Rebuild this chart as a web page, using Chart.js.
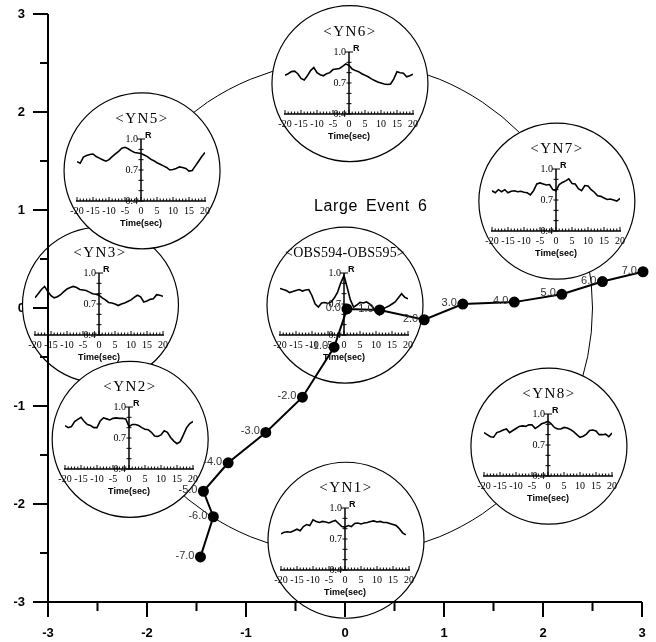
<!DOCTYPE html>
<html>
<head>
<meta charset="utf-8">
<script src="https://cdn.jsdelivr.net/npm/chart.js@4.4.1/dist/chart.umd.min.js"></script>
<style>
  html, body { margin: 0; padding: 0; background: #fff; }
  #wrap { width: 656px; height: 642px; position: relative; }
  #offscreen { position: absolute; left: -3000px; top: 0; }
</style>
</head>
<body>
<div id="wrap"><canvas id="main" width="656" height="642"></canvas></div>
<div id="offscreen"></div>
<script>
// ── main plot data ─────────────────────────────────────────────────────────
const axisTicks = [-3, -2, -1, 0, 1, 2, 3];
const axisMinorTicks = [-2.5, -1.5, -0.5, 0.5, 1.5, 2.5];

const pathLabels = ['-7.0', '-6.0', '-5.0', '-4.0', '-3.0', '-2.0', '-1.0', '0.0',
                    '1.0', '2.0', '3.0', '4.0', '5.0', '6.0', '7.0'];
const pathX = [-1.46, -1.33, -1.43, -1.18, -0.80, -0.43, -0.11, 0.02,
               0.35, 0.80, 1.19, 1.71, 2.19, 2.60, 3.01];
const pathY = [-2.54, -2.13, -1.87, -1.58, -1.27, -0.91, -0.40, -0.01,
               -0.02, -0.12, 0.04, 0.06, 0.14, 0.27, 0.37];

const ringCenter = [0, 0];
const ringRadius = 2.5;
const eventTitle = 'Large Event 6';

// ── inset (cross-correlation) data ─────────────────────────────────────────
const lagSec = [-20, -19, -18, -17, -16, -15, -14, -13, -12, -11, -10, -9, -8, -7, -6, -5, -4, -3, -2, -1,
                0, 1, 2, 3, 4, 5, 6, 7, 8, 9, 10, 11, 12, 13, 14, 15, 16, 17, 18, 19, 20];
const insetXTicks = [-20, -15, -10, -5, 0, 5, 10, 15, 20];
const insetYTicks = [0.4, 0.5, 0.6, 0.7, 0.8, 0.9, 1.0];
const insetYLabels = [1.0, 0.7, 0.4];

const rOBS = [0.85, 0.84, 0.83, 0.81, 0.82, 0.83, 0.84, 0.825, 0.835, 0.84, 0.78, 0.70, 0.67, 0.71, 0.715, 0.705, 0.72, 0.76, 0.815, 0.905,
              0.975, 0.86, 0.74, 0.67, 0.69, 0.715, 0.71, 0.72, 0.70, 0.67, 0.62, 0.595, 0.65, 0.665, 0.68, 0.70, 0.72, 0.76, 0.80, 0.765, 0.75];
const rYN6 = [0.775, 0.79, 0.81, 0.815, 0.79, 0.745, 0.73, 0.77, 0.82, 0.85, 0.80, 0.78, 0.77, 0.79, 0.80, 0.83, 0.835, 0.84, 0.86, 0.885,
              0.87, 0.835, 0.82, 0.81, 0.79, 0.775, 0.76, 0.74, 0.725, 0.71, 0.70, 0.69, 0.685, 0.69, 0.74, 0.81, 0.80, 0.795, 0.76, 0.77, 0.785];
const rYN7 = [0.79, 0.77, 0.80, 0.78, 0.80, 0.77, 0.785, 0.79, 0.78, 0.785, 0.775, 0.77, 0.75, 0.79, 0.855, 0.865, 0.855, 0.845, 0.85, 0.80,
              0.79, 0.85, 0.87, 0.885, 0.905, 0.86, 0.855, 0.81, 0.79, 0.84, 0.835, 0.80, 0.775, 0.74, 0.735, 0.72, 0.705, 0.71, 0.70, 0.69, 0.715];
const rYN8 = [0.82, 0.80, 0.78, 0.775, 0.82, 0.83, 0.845, 0.855, 0.82, 0.84, 0.86, 0.88, 0.885, 0.88, 0.895, 0.895, 0.86, 0.88, 0.905, 0.915,
              0.93, 0.905, 0.87, 0.855, 0.855, 0.87, 0.865, 0.85, 0.83, 0.80, 0.775, 0.785, 0.805, 0.84, 0.845, 0.835, 0.80, 0.80, 0.805, 0.78, 0.815];
const rYN1 = [0.75, 0.765, 0.77, 0.765, 0.78, 0.795, 0.78, 0.82, 0.84, 0.83, 0.885, 0.87, 0.86, 0.87, 0.865, 0.855, 0.87, 0.88, 0.85, 0.82,
              0.815, 0.83, 0.82, 0.85, 0.855, 0.845, 0.855, 0.86, 0.87, 0.875, 0.865, 0.87, 0.86, 0.86, 0.85, 0.84, 0.83, 0.80, 0.76, 0.74, null];
const rYN3 = [0.76, 0.80, 0.84, 0.87, 0.82, 0.78, 0.76, 0.77, 0.79, 0.82, 0.845, 0.86, 0.87, 0.86, 0.84, 0.835, 0.83, 0.815, 0.80, 0.795,
              0.785, 0.76, 0.74, 0.715, 0.71, 0.70, 0.685, 0.70, 0.71, 0.725, 0.74, 0.765, 0.785, 0.77, 0.72, 0.73, 0.745, 0.75, 0.79, 0.785, 0.775];
const rYN2 = [0.82, 0.80, 0.81, 0.86, 0.88, 0.90, 0.86, 0.83, 0.82, 0.80, 0.80, 0.865, 0.895, 0.885, 0.875, 0.89, 0.895, 0.89, 0.89, 0.885,
              0.81, 0.83, 0.83, 0.82, 0.80, 0.785, 0.78, 0.755, 0.72, 0.715, 0.73, 0.77, 0.755, 0.705, 0.67, 0.645, 0.665, 0.73, 0.80, 0.84, 0.86];
const rYN5 = [0.78, 0.765, 0.825, 0.84, 0.85, 0.855, 0.83, 0.815, 0.80, 0.785, 0.80, 0.83, 0.855, 0.88, 0.91, 0.92, 0.905, 0.885, 0.87, 0.865,
              0.86, 0.845, 0.83, 0.805, 0.79, 0.77, 0.755, 0.74, 0.725, 0.70, 0.705, 0.715, 0.73, 0.725, 0.715, 0.69, 0.695, 0.74, 0.785, 0.83, 0.87];

// drawing order matters: later insets overlap earlier ones
const insetNames = ['<OBS594-OBS595>', '<YN6>', '<YN7>', '<YN8>', '<YN1>', '<YN3>', '<YN2>', '<YN5>'];
const insetSeries = [rOBS, rYN6, rYN7, rYN8, rYN1, rYN3, rYN2, rYN5];

// where each inset circle sits, in plot units (x, y)
const insetAt = [[0.0, 0.03], [0.05, 2.29], [2.14, 1.09], [2.06, -1.41],
                 [0.01, -2.37], [-2.47, 0.03], [-2.17, -1.34], [-2.05, 1.40]];

// ── inset charts (rendered off screen, composited into the main canvas) ──
const INSET = 158;          // canvas size of one inset
const INSET_R = 78;         // circle radius

const insetDecor = {
  id: 'insetDecor',
  afterDraw(chart) {
    const { ctx, scales: { x, y } } = chart;
    const x0 = x.getPixelForValue(0);
    const yb = y.getPixelForValue(0.4);
    const yt = y.getPixelForValue(1.0);
    ctx.save();
    ctx.strokeStyle = '#000';
    ctx.fillStyle = '#000';

    // time axis + second ticks
    ctx.lineWidth = 1.5;
    ctx.beginPath();
    ctx.moveTo(x.left - 1, yb); ctx.lineTo(x.right + 1, yb);
    ctx.stroke();
    ctx.lineWidth = 1;
    ctx.beginPath();
    lagSec.forEach(t => {
      const px = x.getPixelForValue(t);
      ctx.moveTo(px, yb); ctx.lineTo(px, yb - (t % 5 === 0 ? 4 : 2.5));
    });
    ctx.stroke();

    // R axis at zero lag
    ctx.lineWidth = 1.5;
    ctx.beginPath();
    ctx.moveTo(x0, yb); ctx.lineTo(x0, yt);
    ctx.stroke();
    ctx.lineWidth = 1;
    ctx.beginPath();
    insetYTicks.forEach(v => {
      const py = y.getPixelForValue(v);
      const w = v === 1.0 ? 4 : 2.5;
      ctx.moveTo(x0 - w, py); ctx.lineTo(x0 + w, py);
    });
    ctx.stroke();

    // tick labels
    ctx.font = '10px "Liberation Serif"';
    ctx.textAlign = 'center';
    ctx.textBaseline = 'middle';
    insetXTicks.forEach(t => ctx.fillText(String(t), x.getPixelForValue(t), yb + 10));
    ctx.textAlign = 'right';
    insetYLabels.forEach(v => ctx.fillText(v.toFixed(1), x0 - 3, y.getPixelForValue(v)));

    ctx.font = 'bold 9px "Liberation Sans"';
    ctx.textAlign = 'left';
    ctx.fillText('R', x0 + 4, yt - 3);

    ctx.textAlign = 'center';
    ctx.fillText('Time(sec)', (x.left + x.right) / 2, yb + 23);

    // station title
    const name = chart.options.plugins.insetDecor.name;
    const long = name.length > 8;
    ctx.font = (long ? '14px' : '15px') + ' "Liberation Serif"';
    ctx.letterSpacing = long ? '0.2px' : '1.5px';
    ctx.fillText(name, INSET / 2, yt - 20);
    ctx.restore();
  }
};

const offscreen = document.getElementById('offscreen');
const insetCanvases = insetSeries.map((vals, i) => {
  const cv = document.createElement('canvas');
  cv.width = INSET; cv.height = INSET;
  offscreen.appendChild(cv);
  new Chart(cv, {
    type: 'line',
    data: {
      datasets: [{
        data: lagSec.map((t, k) => ({ x: t, y: vals[k] })),
        borderColor: '#000',
        borderWidth: 1.6,
        pointRadius: 0,
        tension: 0,
        spanGaps: false,
      }],
    },
    options: {
      responsive: false,
      animation: false,
      devicePixelRatio: 1,
      layout: { padding: { left: 14, right: 16, top: 47, bottom: 49 } },
      scales: {
        x: { type: 'linear', min: -20, max: 20, display: false },
        y: { type: 'linear', min: 0.4, max: 1.0, display: false },
      },
      plugins: {
        legend: { display: false },
        tooltip: { enabled: false },
        insetDecor: { name: insetNames[i] },
      },
    },
    plugins: [insetDecor],
  });
  return cv;
});

// ── main chart decorations ────────────────────────────────────────────────
const backdrop = {
  id: 'backdrop',
  beforeDatasetsDraw(chart) {
    const { ctx, scales: { x, y } } = chart;
    const { left, right, top, bottom } = chart.chartArea;
    ctx.save();

    // axis numbers (under the insets: YN3 hides part of the "0")
    ctx.font = 'bold 13px "Liberation Sans"';
    ctx.fillStyle = '#000';
    ctx.textBaseline = 'middle';
    ctx.textAlign = 'center';
    axisTicks.forEach(v => ctx.fillText(String(v), x.getPixelForValue(v), bottom + 31));
    ctx.textAlign = 'right';
    axisTicks.forEach(v => ctx.fillText(String(v), left - 23, y.getPixelForValue(v)));

    // big ring
    const cx = x.getPixelForValue(ringCenter[0]);
    const cy = y.getPixelForValue(ringCenter[1]);
    const rr = x.getPixelForValue(ringCenter[0] + ringRadius) - cx;
    ctx.strokeStyle = '#000';
    ctx.lineWidth = 1;
    ctx.beginPath();
    ctx.arc(cx, cy, rr, 0, Math.PI * 2);
    ctx.stroke();

    // insets
    insetCanvases.forEach((cv, i) => {
      const px = x.getPixelForValue(insetAt[i][0]);
      const py = y.getPixelForValue(insetAt[i][1]);
      ctx.fillStyle = '#fff';
      ctx.beginPath();
      ctx.arc(px, py, INSET_R, 0, Math.PI * 2);
      ctx.fill();
      ctx.drawImage(cv, Math.round(px - INSET / 2), Math.round(py - INSET / 2));
      ctx.lineWidth = 1.2;
      ctx.beginPath();
      ctx.arc(px, py, INSET_R, 0, Math.PI * 2);
      ctx.stroke();
    });

    // axes lines and tick marks (drawn over the insets, like the original)
    ctx.lineWidth = 2;
    ctx.beginPath();
    ctx.moveTo(left, bottom); ctx.lineTo(right, bottom);
    ctx.moveTo(left, bottom); ctx.lineTo(left, top);
    axisTicks.forEach(v => {
      const px = x.getPixelForValue(v);
      ctx.moveTo(px, bottom); ctx.lineTo(px, bottom + 15);
      const py = y.getPixelForValue(v);
      ctx.moveTo(left, py); ctx.lineTo(left - 15, py);
    });
    axisMinorTicks.forEach(v => {
      const px = x.getPixelForValue(v);
      ctx.moveTo(px, bottom); ctx.lineTo(px, bottom + 9);
      const py = y.getPixelForValue(v);
      ctx.moveTo(left, py); ctx.lineTo(left - 8, py);
    });
    ctx.stroke();
    ctx.restore();
  },
  afterDatasetsDraw(chart) {
    const { ctx, scales: { x, y } } = chart;
    const meta = chart.getDatasetMeta(0);
    ctx.save();
    ctx.font = '11px "Liberation Sans"';
    ctx.fillStyle = '#333';
    ctx.textAlign = 'right';
    ctx.textBaseline = 'middle';
    meta.data.forEach((pt, i) => ctx.fillText(pathLabels[i], pt.x - 6, pt.y - 1));

    ctx.font = '16px "Liberation Sans"';
    ctx.letterSpacing = '0.6px';
    ctx.wordSpacing = '3px';
    ctx.fillStyle = '#000';
    ctx.textAlign = 'center';
    ctx.fillText(eventTitle, x.getPixelForValue(0.26), y.getPixelForValue(1.03));
    ctx.restore();
  }
};

new Chart(document.getElementById('main'), {
  type: 'scatter',
  data: {
    datasets: [{
      data: pathX.map((v, i) => ({ x: v, y: pathY[i] })),
      showLine: true,
      borderColor: '#000',
      borderWidth: 2,
      pointRadius: 4.5,
      pointBackgroundColor: '#000',
      pointBorderColor: '#000',
      clip: false,
    }],
  },
  options: {
    responsive: false,
    animation: false,
    devicePixelRatio: 1,
    layout: { padding: { top: 14, right: 14, left: 48, bottom: 40 } },
    scales: {
      x: { type: 'linear', min: -3, max: 3, display: false },
      y: { type: 'linear', min: -3, max: 3, display: false },
    },
    plugins: { legend: { display: false }, tooltip: { enabled: false } },
  },
  plugins: [backdrop],
});
</script>
</body>
</html>
